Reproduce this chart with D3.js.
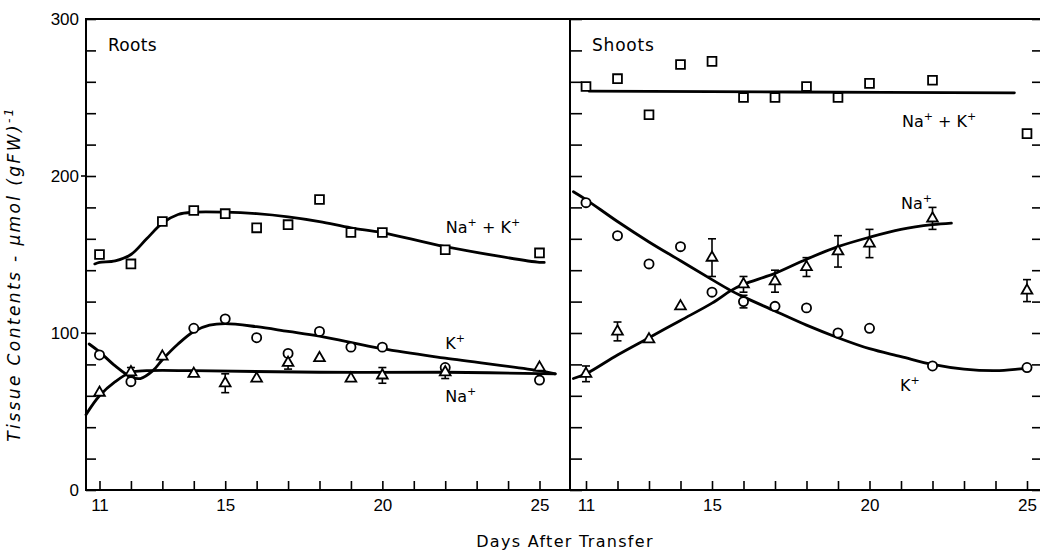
<!DOCTYPE html>
<html>
<head>
<meta charset="utf-8">
<script src="https://cdn.jsdelivr.net/npm/d3@7.9.0/dist/d3.min.js"></script>
<style>
  html, body { margin: 0; padding: 0; background: #fff; }
  svg { display: block; font-family: "DejaVu Sans", "Liberation Sans", sans-serif; }
  .tick line { stroke: #000; stroke-width: 1.6; }
  .tick text { font-size: 17px; fill: #000; }
</style>
</head>
<body>
<svg id="chart" width="1040" height="554"></svg>
<script>
// days on which samples were taken
const days = [11, 12, 13, 14, 15, 16, 17, 18, 19, 20, 22, 25];

// Roots
const rootsNaK = [150, 144, 171, 178, 176, 167, 169, 185, 164, 164, 153, 151];
const rootsKDays = [11, 12, 14, 15, 16, 17, 18, 19, 20, 22, 25];
const rootsK = [86, 69, 103, 109, 97, 87, 101, 91, 91, 78, 70];
const rootsNa = [62, 75, 85, 74, 68, 71, 81, 84, 71, 73, 75, 78];
const rootsNaErr = [0, 3, 0, 0, 6, 0, 4, 0, 0, 5, 4, 0];

// Shoots
const shootsNaK = [257, 262, 239, 271, 273, 250, 250, 257, 250, 259, 261, 227];
const shootsK = [183, 162, 144, 155, 126, 120, 117, 116, 100, 103, 79, 78];
const shootsKErr = [0, 0, 0, 0, 0, 4, 0, 0, 0, 0, 0, 0];
const shootsNa = [74, 101, 96, 117, 148, 131, 133, 142, 152, 157, 173, 127];
const shootsNaErr = [5, 6, 0, 0, 12, 5, 7, 6, 10, 9, 7, 7];

// fitted curves as [day, value]
const rootsNaKCurve = [[10.85, 144], [11, 145], [11.5, 146], [12, 150], [12.5, 160], [13, 170], [13.5, 175.5],
  [14, 177], [15, 177], [16, 176], [17, 174], [18, 171], [19, 167], [20, 164], [22, 155], [25, 145], [25.15, 145]];
const rootsKCurve = [[10.67, 93], [11, 88], [11.5, 79], [12, 72], [12.3, 71], [12.7, 76], [13, 83], [13.5, 93],
  [14, 101], [14.5, 105], [15, 106], [16, 104], [17, 101], [18, 98], [20, 90], [22, 84], [25, 76], [25.5, 74]];
const rootsNaCurve = [[10.57, 48], [11, 60], [11.5, 69], [12, 75], [12.5, 76], [14, 76], [18, 75], [22, 75], [25.5, 74]];
const shootsNaKCurve = [[11.1, 254], [17.5, 253.5], [24.6, 253]];
const shootsKCurve = [[10.6, 190], [11, 185], [12, 171], [13, 158], [14, 146], [15, 134], [15.6, 127], [16, 123],
  [17, 114], [18, 105], [19, 97], [20, 90], [21, 85], [22, 80], [23, 77], [24, 76], [24.7, 77], [25.1, 78]];
const shootsNaCurve = [[10.6, 71], [11, 74], [12, 86], [13, 97], [14, 108], [15, 119], [15.6, 127], [16, 131],
  [17, 138], [18, 147], [19, 155], [20, 161], [21, 166], [22, 169], [22.6, 170]];

const xTicks = d3.range(11, 26);
const xLabels = [11, 15, 20, 25];
const yTicks = d3.range(0, 301, 20);
const yLabels = [0, 100, 200, 300];

const svg = d3.select('#chart');
const y = d3.scaleLinear().domain([0, 300]).range([490, 19]);

const panels = [
  {
    name: 'Roots', left: 86, right: 570,
    x: d3.scaleLinear().domain([11, 25]).range([99.5, 539.5]),
    series: [
      { shape: d3.symbolSquare, size: 78, days: days, values: rootsNaK, curve: rootsNaKCurve },
      { shape: d3.symbolCircle, size: 66, days: rootsKDays, values: rootsK, curve: rootsKCurve },
      { shape: d3.symbolTriangle, size: 50, days: days, values: rootsNa, err: rootsNaErr, curve: rootsNaCurve }
    ],
    labels: [
      { day: 22.02, value: 164, parts: ['Na', '+', ' + K', '+'] },
      { day: 22.0, value: 90, parts: ['K', '+'] },
      { day: 22.0, value: 56, parts: ['Na', '+'] }
    ]
  },
  {
    name: 'Shoots', left: 570, right: 1041,
    x: d3.scaleLinear().domain([11, 25]).range([586, 1027]),
    series: [
      { shape: d3.symbolSquare, size: 78, days: days, values: shootsNaK, curve: shootsNaKCurve },
      { shape: d3.symbolCircle, size: 66, days: days, values: shootsK, err: shootsKErr, curve: shootsKCurve },
      { shape: d3.symbolTriangle, size: 50, days: days, values: shootsNa, err: shootsNaErr, curve: shootsNaCurve }
    ],
    labels: [
      { day: 21.03, value: 231, parts: ['Na', '+', ' + K', '+'] },
      { day: 21.0, value: 179, parts: ['Na', '+'] },
      { day: 20.97, value: 63, parts: ['K', '+'] }
    ]
  }
];

const line = d3.line().curve(d3.curveCatmullRom.alpha(0.5));

panels.forEach((p, pi) => {
  const g = svg.append('g');
  const x = p.x;

  // frame
  g.append('rect')
    .attr('x', p.left).attr('y', y(300))
    .attr('width', p.right - p.left).attr('height', y(0) - y(300))
    .attr('fill', 'none').attr('stroke', '#000').attr('stroke-width', 2);

  // bottom ticks, pointing up
  const xAxis = d3.axisBottom(x).tickValues(xTicks).tickSize(-9).tickPadding(9)
    .tickFormat(d => xLabels.includes(d) ? d : '');
  g.append('g').attr('transform', `translate(0,${y(0)})`).call(xAxis)
    .call(a => a.select('.domain').remove());

  // left ticks, pointing in
  const yAxis = d3.axisLeft(y).tickValues(yTicks).tickSize(pi === 0 ? -10 : -12).tickPadding(7)
    .tickFormat(d => (pi === 0 && yLabels.includes(d)) ? d : '');
  g.append('g').attr('transform', `translate(${p.left},0)`).call(yAxis)
    .call(a => a.select('.domain').remove())
    .call(a => a.selectAll('.tick text').attr('font-size', 18));

  if (pi === 0) {
    // labelled ticks poke out a little
    g.selectAll('.outTick').data(yLabels.slice(1, 3)).join('line')
      .attr('x1', p.left - 5).attr('x2', p.left)
      .attr('y1', d => y(d)).attr('y2', d => y(d))
      .attr('stroke', '#000').attr('stroke-width', 1.6);
  } else {
    // right side ticks pointing in
    const yRight = d3.axisRight(y).tickValues(yTicks).tickSize(-8).tickFormat('');
    g.append('g').attr('transform', `translate(1040,0)`).call(yRight)
      .call(a => a.select('.domain').remove());
  }

  // panel name
  g.append('text')
    .attr('x', p.left + 22).attr('y', 51)
    .attr('font-size', 17).attr('letter-spacing', pi === 0 ? 0.3 : 0.8)
    .text(p.name);

  // curves
  p.series.forEach(s => {
    g.append('path')
      .attr('d', line(s.curve.map(([d, v]) => [x(d), y(v)])))
      .attr('fill', 'none').attr('stroke', '#000').attr('stroke-width', 2.8)
      .attr('stroke-linecap', 'round');
  });

  // error bars
  p.series.forEach(s => {
    if (!s.err) return;
    const pts = s.days.map((d, i) => ({ d, v: s.values[i], e: s.err[i] })).filter(o => o.e > 0);
    const eb = g.append('g').attr('stroke', '#000').attr('stroke-width', 1.6);
    pts.forEach(o => {
      const cx = x(o.d);
      eb.append('line').attr('x1', cx).attr('x2', cx).attr('y1', y(o.v + o.e)).attr('y2', y(o.v - o.e));
      [o.v + o.e, o.v - o.e].forEach(v => {
        eb.append('line').attr('x1', cx - 4).attr('x2', cx + 4).attr('y1', y(v)).attr('y2', y(v));
      });
    });
  });

  // markers
  p.series.forEach(s => {
    const sym = d3.symbol().type(s.shape).size(s.size);
    g.append('g').selectAll('path')
      .data(s.days.map((d, i) => [d, s.values[i]]))
      .join('path')
      .attr('transform', d => `translate(${x(d[0])},${y(d[1])})`)
      .attr('d', sym)
      .attr('fill', '#fff').attr('stroke', '#000').attr('stroke-width', 1.8);
  });

  // curve labels
  p.labels.forEach(l => {
    const t = g.append('text')
      .attr('x', x(l.day)).attr('y', y(l.value))
      .attr('font-size', 16);
    l.parts.forEach((part, i) => {
      if (i % 2 === 1) {
        t.append('tspan').attr('font-size', 11).attr('dy', -7).text(part);
      } else {
        t.append('tspan').attr('dy', i === 0 ? 0 : 7).text(part);
      }
    });
  });
});

// axis titles
svg.append('text')
  .attr('x', 565).attr('y', 547)
  .attr('text-anchor', 'middle')
  .attr('font-size', 16).attr('letter-spacing', 1.3)
  .text('Days After Transfer');

const yt = svg.append('text')
  .attr('transform', 'translate(20,274) rotate(-90)')
  .attr('text-anchor', 'middle')
  .attr('font-size', 17).attr('font-style', 'italic').attr('letter-spacing', 2.4);
yt.append('tspan').text('Tissue Contents - \u03bcmol (gFW)');
yt.append('tspan').attr('font-size', 12).attr('dy', -7).text('-1');
</script>
</body>
</html>
